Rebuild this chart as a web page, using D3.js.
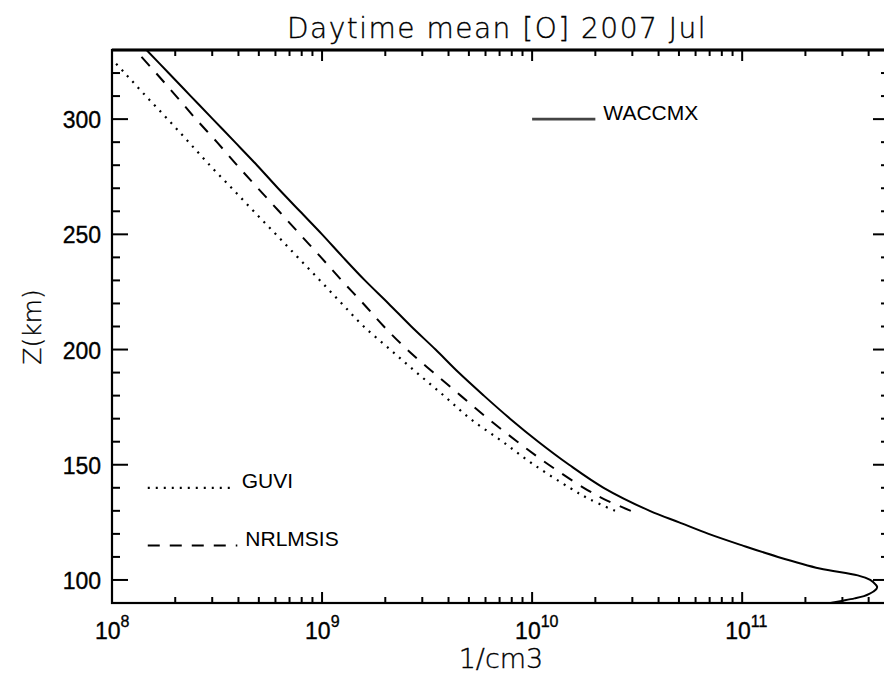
<!DOCTYPE html>
<html>
<head>
<meta charset="utf-8">
<script src="https://cdn.jsdelivr.net/npm/d3@7"></script>
<style>
    body { margin: 0; background: #fff; }
    svg { display: block; }
    .tick-label, .legend-label { font-family: 'Liberation Sans', Arial, sans-serif; fill: #000; }
    .tick-label { stroke: #000; stroke-width: 0.35; }
    .title, .axis-title { font-family: 'DejaVu Sans', sans-serif; font-weight: 200; fill: #000; stroke: #000; stroke-width: 0.35; }
</style>
</head>
<body>
<svg id="chart" width="884" height="675"></svg>
<script>
/**
 * Data: altitude (km) vs. [O] number density (1/cm3).
 */
const titleText = 'Daytime mean [O] 2007 Jul',
    xTitle = '1/cm3',
    yTitle = 'Z(km)';

const xDomain = [1e8, 5e11],
    yDomain = [90, 330];

const xMajorExponents = [8, 9, 10, 11],
    yMajorTicks = [100, 150, 200, 250, 300];

const waccmxAlt = [89, 90, 91, 92, 93, 94, 95, 96, 97, 98, 100, 102, 105, 110, 115, 120, 125, 130,
    140, 150, 160, 170, 180, 190, 200, 210, 220, 230, 240, 250, 260, 270, 280, 290, 300, 310, 320, 330];
const waccmxDen = [2.24e11, 2.63e11, 3.02e11, 3.43e11, 3.80e11, 4.03e11, 4.22e11, 4.35e11, 4.39e11, 4.32e11,
    4.07e11, 3.55e11, 2.34e11, 1.48e11, 1.00e11, 6.92e10, 5.01e10, 3.63e10,
    2.19e10, 1.50e10, 1.07e10, 7.85e9, 5.89e9, 4.47e9, 3.47e9, 2.66e9, 2.07e9, 1.60e9, 1.26e9, 1.00e9,
    7.85e8, 6.17e8, 4.90e8, 3.85e8, 3.02e8, 2.37e8, 1.86e8, 1.46e8];

const modelAlt = [130, 135, 140, 150, 160, 170, 180, 190, 200, 210, 220, 230, 240, 250,
    260, 270, 280, 290, 300, 310, 320, 330];
const nrlmsisDen = [2.95e10, 2.21e10, 1.76e10, 1.20e10, 8.51e9, 6.17e9, 4.57e9, 3.39e9, 2.54e9, 1.97e9,
    1.57e9, 1.24e9, 9.89e8, 7.85e8, 6.24e8, 4.95e8, 3.94e8, 3.16e8, 2.51e8, 2.02e8, 1.62e8, 1.29e8];
const guviDen = [2.48e10, 1.88e10, 1.51e10, 1.02e10, 7.24e9, 5.07e9, 3.80e9, 2.82e9, 2.11e9, 1.58e9,
    1.24e9, 9.77e8, 7.67e8, 6.03e8, 4.73e8, 3.72e8, 2.92e8, 2.32e8, 1.84e8, 1.45e8, 1.15e8, 9.12e7];

/**
 * Visual configs.
 */
const margin = { top: 50, right: -5, bottom: 72, left: 112 }, // right axis sits just off the canvas
    visWidth = 884, visHeight = 675,
    width = visWidth - margin.left - margin.right,
    height = visHeight - margin.top - margin.bottom,
    legendGap = 8;

const styles = {
    WACCMX: { dash: null, width: 2 },
    NRLMSIS: { dash: '12,10', width: 2 },
    GUVI: { dash: '2,6', width: 2.2 }
};

const series = [
    { name: 'WACCMX', values: waccmxAlt.map((z, i) => ({ z: z, n: waccmxDen[i] })) },
    { name: 'NRLMSIS', values: modelAlt.map((z, i) => ({ z: z, n: nrlmsisDen[i] })) },
    { name: 'GUVI', values: modelAlt.map((z, i) => ({ z: z, n: guviDen[i] })) }
];

// Legend entries, placed in data coordinates like the original plot
const legend = [
    { name: 'WACCMX', n0: 1e10, n1: 2e10, z: 300 },
    { name: 'GUVI', n0: 1.48e8, n1: 3.8e8, z: 140 },
    { name: 'NRLMSIS', n0: 1.48e8, n1: 3.95e8, z: 115 }
];

/**
 * D3.
 */
const x = d3.scaleLog().domain(xDomain).range([0, width]),
    y = d3.scaleLinear().domain(yDomain).range([height, 0]);

const svg = d3.select('#chart');
const g = svg.append('g').attr('transform', 'translate(' + margin.left + ',' + margin.top + ')');

g.append('clipPath').attr('id', 'plot-clip')
    .append('rect').attr('width', width).attr('height', height);

// Curves
const line = d3.line()
    .x(d => x(d.n))
    .y(d => y(d.z))
    .curve(d3.curveCatmullRom.alpha(0.5));

g.append('g').attr('clip-path', 'url(#plot-clip)')
    .selectAll('path').data(series).join('path')
    .attr('d', d => line(d.values))
    .attr('fill', 'none')
    .attr('stroke', '#000')
    .attr('stroke-width', d => styles[d.name].width)
    .attr('stroke-dasharray', d => styles[d.name].dash);

// Legend
const legendItems = g.selectAll('.legend').data(legend).join('g').attr('class', 'legend');
legendItems.append('line')
    .attr('x1', d => x(d.n0)).attr('x2', d => x(d.n1))
    .attr('y1', d => y(d.z)).attr('y2', d => y(d.z))
    .attr('stroke', d => d.name === 'WACCMX' ? '#444' : '#000')
    .attr('stroke-width', d => d.name === 'WACCMX' ? 2.6 : styles[d.name].width)
    .attr('stroke-dasharray', d => styles[d.name].dash);
legendItems.append('text').attr('class', 'legend-label')
    .attr('x', d => x(d.n1) + legendGap)
    .attr('y', d => y(d.z) + 0.5)
    .attr('font-size', 21)
    .text(d => d.name);

/**
 * Axes: box with ticks on all four sides.
 */
const xTicks = x.ticks().filter(v => v >= xDomain[0] && v <= xDomain[1]),
    isMajorX = v => Math.abs(Math.log10(v) - Math.round(Math.log10(v))) < 1e-6,
    yTicks = d3.range(yDomain[0], yDomain[1] + 1, 10),
    isMajorY = v => yMajorTicks.includes(v);

const ticks = g.append('g').attr('stroke', '#000').attr('stroke-width', 2);

// bottom and top
ticks.selectAll('.xb').data(xTicks).join('line')
    .attr('x1', d => x(d)).attr('x2', d => x(d))
    .attr('y1', height).attr('y2', d => height - (isMajorX(d) ? 11 : 6));
ticks.selectAll('.xt').data(xTicks).join('line').attr('class', 'xt')
    .attr('x1', d => x(d)).attr('x2', d => x(d))
    .attr('y1', 0).attr('y2', d => isMajorX(d) ? 11 : 6);

// left and right
ticks.selectAll('.yl').data(yTicks).join('line').attr('class', 'yl')
    .attr('x1', 0).attr('x2', d => isMajorY(d) ? 16 : 8)
    .attr('y1', d => y(d)).attr('y2', d => y(d));
ticks.selectAll('.yr').data(yTicks).join('line').attr('class', 'yr')
    .attr('x1', width).attr('x2', d => width - (isMajorY(d) ? 16 : 8))
    .attr('y1', d => y(d)).attr('y2', d => y(d));

g.append('rect')
    .attr('width', width).attr('height', height)
    .attr('fill', 'none').attr('stroke', '#000').attr('stroke-width', 2.2);
g.append('line') // top edge is drawn a little heavier in the original
    .attr('x1', 0).attr('x2', width).attr('y1', 0).attr('y2', 0)
    .attr('stroke', '#000').attr('stroke-width', 3);

// Tick labels
g.selectAll('.ylab').data(yMajorTicks).join('text').attr('class', 'tick-label')
    .attr('x', -11).attr('y', d => y(d) + 9)
    .attr('text-anchor', 'end').attr('font-size', 23)
    .text(d => d);

const xLabels = g.selectAll('.xlab').data(xMajorExponents).join('text').attr('class', 'tick-label')
    .attr('x', d => x(Math.pow(10, d)) - 17)
    .attr('y', height + 36)
    .attr('font-size', 23);
xLabels.append('tspan').text('10');
xLabels.append('tspan').attr('dy', -12).attr('font-size', 16).text(d => d);

// Titles
svg.append('text').attr('class', 'title')
    .attr('x', 497).attr('y', 38)
    .attr('text-anchor', 'middle').attr('font-size', 28).attr('letter-spacing', 1.5)
    .text(titleText);

svg.append('text').attr('class', 'axis-title')
    .attr('x', 501).attr('y', 668)
    .attr('text-anchor', 'middle').attr('font-size', 27)
    .text(xTitle);

svg.append('text').attr('class', 'axis-title')
    .attr('transform', 'translate(41,327) rotate(-90)')
    .attr('text-anchor', 'middle').attr('font-size', 25)
    .text(yTitle);
</script>
</body>
</html>
